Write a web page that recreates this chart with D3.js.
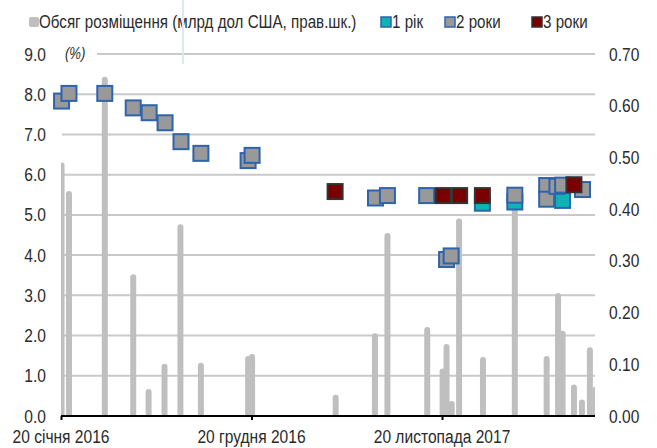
<!DOCTYPE html>
<html><head><meta charset="utf-8">
<script src="https://cdn.jsdelivr.net/npm/d3@7"></script>
<style>html,body{margin:0;padding:0;background:#fff;}svg{display:block;}</style>
</head><body>
<div id="chart"></div>
<script>
// ---- data ----
const barDates = ["2016-01-21","2016-02-03","2016-04-06","2016-05-26","2016-06-22","2016-07-20","2016-08-17","2016-09-22","2016-12-14","2016-12-21","2017-05-17","2017-07-25","2017-08-16","2017-10-25","2017-11-21","2017-11-28","2017-12-07","2017-12-20","2018-01-31","2018-03-28","2018-05-23","2018-06-12","2018-06-20","2018-07-10","2018-07-24","2018-08-07","2018-08-17"];
const barValues = [0.49,0.435,0.656,0.274,0.052,0.101,0.371,0.103,0.116,0.120,0.041,0.160,0.354,0.172,0.092,0.139,0.029,0.382,0.114,0.41,0.116,0.238,0.165,0.061,0.032,0.133,0.057];

const y1Dates = ["2018-01-30","2018-03-28","2018-06-20"];
const y1Values = [5.29,5.32,5.36];

const y2Dates = ["2016-01-21","2016-02-03","2016-04-06","2016-05-26","2016-06-23","2016-07-21","2016-08-18","2016-09-22","2016-12-14","2016-12-21","2017-07-26","2017-08-16","2017-10-24","2017-11-28","2017-12-06","2018-03-28","2018-05-23","2018-05-23","2018-06-10","2018-06-20","2018-07-25"];
const y2Values = [7.83,8.02,8.02,7.66,7.54,7.29,6.82,6.53,6.35,6.48,5.42,5.48,5.48,3.89,3.98,5.49,5.73,5.39,5.71,5.74,5.63];

const y3Dates = ["2017-05-16","2017-11-22","2017-12-21","2018-01-30","2018-07-10"];
const y3Values = [5.58,5.48,5.48,5.48,5.75];

const leftTicks = [0,1,2,3,4,5,6,7,8,9];
const rightTicks = [0,0.1,0.2,0.3,0.4,0.5,0.6,0.7];
const xTickDates = ["2016-01-20","2016-12-20","2017-11-20"];
const xTickLabels = ["20 січня 2016","20 грудня 2016","20 листопада 2017"];
const xDomain = ["2016-01-20","2018-08-16"];
const legendLabels = ["Обсяг розміщення (млрд дол США, прав.шк.)","1 рік","2 роки","3 роки"];
const unitLabel = "(%)";

// ---- setup ----
const W = 657, H = 448;
const parse = d3.timeParse("%Y-%m-%d");
const L = 61, R = 595, T = 54, B = 416;

function hasFont(name){
  const c = document.createElement("canvas").getContext("2d");
  const s = "Обсяг розміщення 0.70 2016";
  c.font = "20px monospace"; const a = c.measureText(s).width;
  c.font = "20px '" + name + "', monospace"; const b = c.measureText(s).width;
  return Math.abs(a-b) > 0.5;
}
const narrow = hasFont("Liberation Sans Narrow");
const FONT = narrow ? "'Liberation Sans Narrow', 'Liberation Sans', sans-serif" : "'Liberation Sans', Arial, sans-serif";
const SX = narrow ? 1 : 0.82;
const TXT = "#2b2b2b";

const svg = d3.select("#chart").append("svg").attr("width", W).attr("height", H);

function txt(x, y, s, opts={}){
  const g = svg.append("g").attr("transform", `translate(${x},${y}) scale(${SX},1)`);
  return g.append("text").attr("x",0).attr("y",0)
    .attr("font-family", FONT).attr("font-size", opts.size || 19)
    .attr("font-style", opts.italic ? "italic" : "normal")
    .attr("text-anchor", opts.anchor || "start")
    .attr("dominant-baseline", opts.baseline || "auto")
    .attr("fill", opts.fill || TXT).text(s);
}

const x = d3.scaleTime().domain(xDomain.map(parse)).range([L, R]);
const yL = d3.scaleLinear().domain([0, 9]).range([B, T]);
const yR = d3.scaleLinear().domain([0, 0.7]).range([B, T]);

svg.append("defs").append("clipPath").attr("id","plot")
  .append("rect").attr("x", L).attr("y", 0).attr("width", R-L).attr("height", B);

// gridlines
svg.append("g").selectAll("line").data(leftTicks.filter(d=>d>0)).join("line")
  .attr("x1", d => d===9 ? 97 : L+1).attr("x2", R)
  .attr("y1", d=>yL(d)).attr("y2", d=>yL(d))
  .attr("stroke", "#c9c9c9").attr("stroke-width", 2);

// bars (right axis)
const barW = 6;
svg.append("g").attr("clip-path","url(#plot)").selectAll("rect")
  .data(barDates.map((d,i)=>({d:parse(d), v:barValues[i]}))).join("rect")
  .attr("x", d => x(d.d) - barW/2).attr("width", barW)
  .attr("y", d => yR(d.v)).attr("height", d => B + 4 - yR(d.v))
  .attr("rx", barW/2).attr("fill", "#bfbfbf");

// axis line + ticks
svg.append("line").attr("x1", L).attr("x2", R).attr("y1", B).attr("y2", B)
  .attr("stroke", "#000").attr("stroke-width", 2);
const xAxis = d3.axisBottom(x).tickValues(xTickDates.map(parse)).tickSize(4).tickFormat("");
const ax = svg.append("g").attr("transform", `translate(0,${B})`).call(xAxis);
ax.select(".domain").remove();
ax.selectAll(".tick line").attr("stroke","#000").attr("stroke-width",2);

// markers
const S = 15;
function markers(dates, vals, fill, stroke){
  svg.append("g").selectAll("rect").data(dates.map((d,i)=>({d:parse(d), v:vals[i]}))).join("rect")
    .attr("x", d => x(d.d) - S/2).attr("y", d => yL(d.v) - S/2)
    .attr("width", S).attr("height", S)
    .attr("fill", fill).attr("stroke", stroke).attr("stroke-width", 2);
}
markers(y1Dates, y1Values, "#0fb3b3", "#2e63ad");
markers(y2Dates, y2Values, "#999999", "#2e63ad");
markers(y3Dates, y3Values, "#7a0000", "#333333");

// axis labels
leftTicks.forEach(v => txt(46, yL(v), d3.format(".1f")(v), {anchor:"end", baseline:"central"}));
rightTicks.forEach(v => txt(609, yR(v), d3.format(".2f")(v), {anchor:"start", baseline:"central"}));
xTickDates.forEach((d,i) => txt(x(parse(d)), 443, xTickLabels[i], {anchor:"middle"}));
txt(65, yL(9), unitLabel, {italic:true, baseline:"central", size:16});

// legend
const legY = 22;
const legItems = [
  {x:29, fill:"#bfbfbf", stroke:"none", tx:39},
  {x:381, fill:"#0fb3b3", stroke:"#2e63ad", tx:392},
  {x:445, fill:"#999999", stroke:"#2e63ad", tx:456},
  {x:532, fill:"#7a0000", stroke:"#333333", tx:543}
];
legItems.forEach((it,i) => {
  svg.append("rect").attr("x", it.x).attr("y", legY-5).attr("width", 10).attr("height", 10)
    .attr("rx", it.stroke==="none"?2:0)
    .attr("fill", it.fill).attr("stroke", it.stroke).attr("stroke-width", 1.5);
  txt(it.tx, legY, legendLabels[i], {baseline:"central", size:18.5});
});

// artifact vertical line near legend (drawn over the text, as in the source)
svg.append("line").attr("x1",183).attr("x2",183).attr("y1",0).attr("y2",64)
  .attr("stroke","#dde9ea").attr("stroke-width",2);
</script>
</body></html>
